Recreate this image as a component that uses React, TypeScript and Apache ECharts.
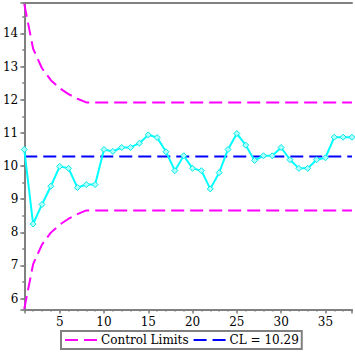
import React, { useEffect, useRef } from "react";
import * as echarts from "echarts";

const sampleValues = [
  10.5, 8.25, 8.84, 9.39, 9.99, 9.93, 9.35, 9.44, 9.44, 10.5,
  10.44, 10.56, 10.56, 10.69, 10.94, 10.86, 10.43, 9.86, 10.31, 9.93,
  9.86, 9.31, 9.8, 10.5, 10.98, 10.63, 10.17, 10.31, 10.31, 10.56,
  10.19, 9.93, 9.93, 10.19, 10.25, 10.87, 10.87, 10.87,
];
const upperLimits = [
  14.89, 13.54, 12.95, 12.59, 12.35, 12.17, 12.03, 11.92, 11.92, 11.92,
  11.92, 11.92, 11.92, 11.92, 11.92, 11.92, 11.92, 11.92, 11.92, 11.92,
  11.92, 11.92, 11.92, 11.92, 11.92, 11.92, 11.92, 11.92, 11.92, 11.92,
  11.92, 11.92, 11.92, 11.92, 11.92, 11.92, 11.92, 11.92,
];
const lowerLimits = [
  5.69, 7.04, 7.63, 7.99, 8.23, 8.41, 8.55, 8.66, 8.66, 8.66,
  8.66, 8.66, 8.66, 8.66, 8.66, 8.66, 8.66, 8.66, 8.66, 8.66,
  8.66, 8.66, 8.66, 8.66, 8.66, 8.66, 8.66, 8.66, 8.66, 8.66,
  8.66, 8.66, 8.66, 8.66, 8.66, 8.66, 8.66, 8.66,
];
const centerLine = 10.29;
const legendNames = ["Control Limits", "CL = 10.29"];

const FONT = "DejaVu Serif";
const AXIS = "#808080";

export default function App() {
  const ref = useRef<HTMLDivElement>(null);
  useEffect(() => {
    if (!ref.current) return;
    const chart = echarts.init(ref.current, null, { renderer: "svg" });
    const xs = sampleValues.map((_, i) => i + 1);
    const pairs = (arr: number[]) => arr.map((v, i) => [xs[i], v]);
    const clData = xs.map((x) => [x, centerLine]);
    const dash = [13, 6];
    chart.setOption({
      animation: false,
      backgroundColor: "#fff",
      grid: { left: 22, top: 3, right: 0, bottom: 45.5, containLabel: false },
      xAxis: [
        {
          type: "value", min: 1, max: 38, minInterval: 5, maxInterval: 5,
          position: "bottom",
          axisLine: { show: true, onZero: false, lineStyle: { color: AXIS, width: 2 } },
          axisTick: { show: true, length: 4, lineStyle: { color: AXIS, width: 1.5 } },
          axisLabel: {
            margin: 6, color: "#000", fontFamily: FONT, fontSize: 12,
            formatter: (v: number) => (v % 5 === 0 ? String(v) : ""),
          },
          splitLine: { show: false },
        },
        {
          type: "value", min: 1, max: 38, interval: 1, position: "bottom",
          axisLine: { show: false },
          axisTick: { show: true, length: 2, lineStyle: { color: AXIS, width: 1.5 } },
          axisLabel: { show: false },
          splitLine: { show: false },
        },
        {
          type: "value", min: 1, max: 38, position: "top",
          axisLine: { show: true, lineStyle: { color: AXIS, width: 2 } },
          axisTick: { show: false },
          axisLabel: { show: false },
          splitLine: { show: false },
        },
      ],
      yAxis: [
        {
          type: "value", min: 5.67, max: 14.92, minInterval: 1, maxInterval: 1,
          position: "left",
          axisLine: { show: true, onZero: false, lineStyle: { color: AXIS, width: 2 } },
          axisTick: { show: true, length: 4, lineStyle: { color: AXIS, width: 1.5 } },
          axisLabel: {
            margin: 6, color: "#000", fontFamily: FONT, fontSize: 12,
            formatter: (v: number) => (Math.abs(v - Math.round(v)) < 1e-6 ? String(Math.round(v)) : ""),
          },
          splitLine: { show: false },
        },
        {
          type: "value", min: 5.67, max: 14.92, minInterval: 0.5, maxInterval: 0.5,
          position: "left",
          axisLine: { show: false },
          axisTick: { show: true, length: 2, lineStyle: { color: AXIS, width: 1.5 } },
          axisLabel: { show: false },
          splitLine: { show: false },
        },
      ],
      legend: {
        data: legendNames,
        left: 61, top: 331,
        orient: "horizontal",
        padding: [3, 3, 3, 3],
        itemGap: 4,
        itemWidth: 32, itemHeight: 14,
        borderColor: AXIS, borderWidth: 2, borderRadius: 0,
        itemStyle: { opacity: 0 },
        lineStyle: { type: dash, width: 2 },
        textStyle: { fontFamily: FONT, fontSize: 12, color: "#000", padding: [0, 0, 0, -1] },
      },
      series: [
        {
          name: "Control Limits", type: "line", data: pairs(upperLimits),
          symbol: "none", xAxisIndex: 0, yAxisIndex: 0,
          lineStyle: { color: "#ff00ff", width: 2, type: dash },
          itemStyle: { color: "#ff00ff" }, z: 2,
        },
        {
          name: "Control Limits", type: "line", data: pairs(lowerLimits),
          symbol: "none", xAxisIndex: 0, yAxisIndex: 0,
          lineStyle: { color: "#ff00ff", width: 2, type: dash },
          itemStyle: { color: "#ff00ff" }, z: 2,
        },
        {
          name: "CL = 10.29", type: "line", data: clData,
          symbol: "none", xAxisIndex: 0, yAxisIndex: 0,
          lineStyle: { color: "#0000ff", width: 2, type: dash },
          itemStyle: { color: "#0000ff" }, z: 2,
        },
        {
          name: "Samples", type: "line", data: pairs(sampleValues),
          symbol: "diamond", symbolSize: 6, xAxisIndex: 0, yAxisIndex: 0,
          lineStyle: { color: "#00ffff", width: 2 },
          itemStyle: { color: "#b0ffff", borderColor: "#00e8e8", borderWidth: 1 },
          z: 3,
        },
      ],
    });
    return () => chart.dispose();
  }, []);
  return (
    <div
      ref={ref}
      style={{ position: "fixed", left: 0, top: 0, width: 355, height: 355 }}
    />
  );
}
